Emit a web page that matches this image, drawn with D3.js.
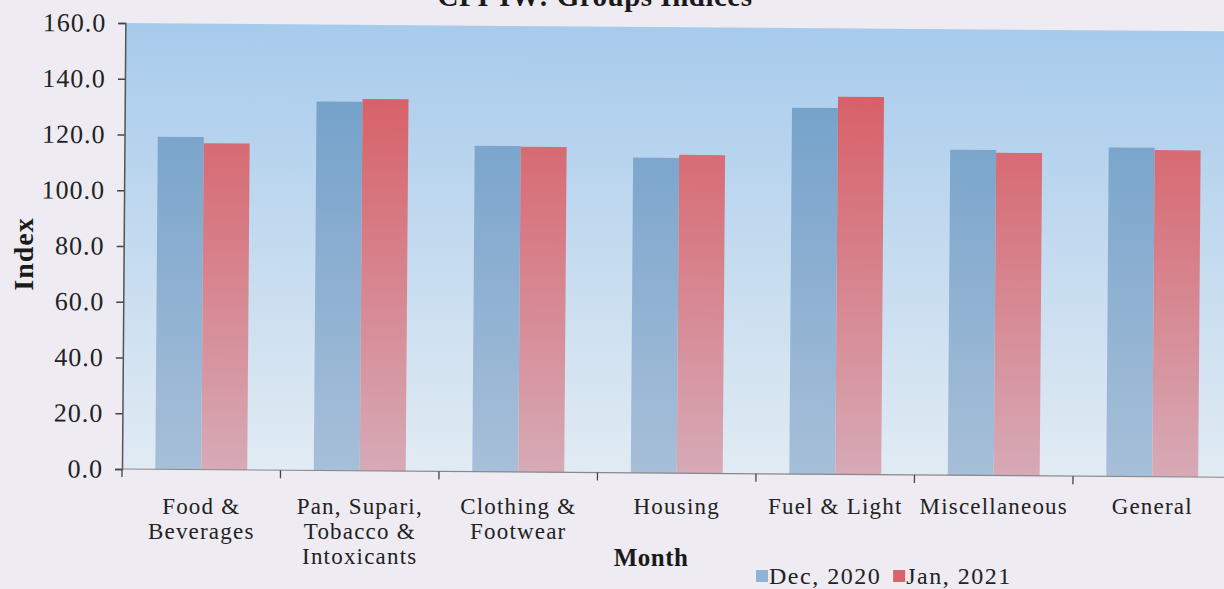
<!DOCTYPE html>
<html>
<head>
<meta charset="utf-8">
<script src="https://cdn.jsdelivr.net/npm/d3@7"></script>
<style>
  html, body { margin: 0; padding: 0; background: #eeebf2; }
  svg { display: block; font-family: "Liberation Serif", "DejaVu Serif", serif; }
</style>
</head>
<body>
<div id="chart"></div>
<script>
// CPI-IW group indices
var categories = [
    ['Food &', 'Beverages'],
    ['Pan, Supari,', 'Tobacco &', 'Intoxicants'],
    ['Clothing &', 'Footwear'],
    ['Housing'],
    ['Fuel & Light'],
    ['Miscellaneous'],
    ['General']
];
var seriesNames = ['Dec, 2020', 'Jan, 2021'];
var dec2020 = [119.3, 132.4, 116.9, 113.1, 131.4, 116.8, 118.0];
var jan2021 = [117.1, 133.4, 116.7, 114.2, 135.5, 115.8, 117.2];
var yTicks = [0, 20, 40, 60, 80, 100, 120, 140, 160];

var width = 1224, height = 589;
var plotLeft = 122, plotTop = 23, plotBottom = 469, step = 158.5;

var svg = d3.select('#chart').append('svg')
    .attr('width', width)
    .attr('height', height);

var defs = svg.append('defs');

function vGrad(id, c1, c2) {
    var g = defs.append('linearGradient')
        .attr('id', id)
        .attr('gradientUnits', 'userSpaceOnUse')
        .attr('x1', 0).attr('x2', 0)
        .attr('y1', plotTop).attr('y2', plotBottom);
    g.append('stop').attr('offset', '0%').attr('stop-color', c1);
    g.append('stop').attr('offset', '100%').attr('stop-color', c2);
}
vGrad('bgGrad', '#a7cbec', '#e1ebf3');
vGrad('blueGrad', '#6b9cc7', '#a7bfd9');
vGrad('redGrad', '#d8535a', '#d6aab6');

// the scan is tilted a little, so is the plot
var g = svg.append('g')
    .attr('transform', 'rotate(0.43,' + plotLeft + ',' + plotBottom + ')');

var keys = categories.map(function (c) { return c.join(' '); });

var x = d3.scaleBand()
    .domain(keys)
    .range([plotLeft, plotLeft + step * keys.length])
    .paddingInner(0.42)
    .paddingOuter(0.21);

var xSub = d3.scaleBand()
    .domain(seriesNames)
    .range([0, x.bandwidth()]);

var y = d3.scaleLinear()
    .domain([0, 160])
    .range([plotBottom, plotTop]);

g.append('rect')
    .attr('x', plotLeft)
    .attr('y', plotTop)
    .attr('width', step * keys.length)
    .attr('height', plotBottom - plotTop)
    .attr('fill', 'url(#bgGrad)');

var rows = keys.map(function (k, i) {
    return { key: k, values: [dec2020[i], jan2021[i]] };
});
var fills = ['url(#blueGrad)', 'url(#redGrad)'];

g.selectAll('.group')
    .data(rows)
    .enter().append('g')
    .attr('class', 'group')
    .attr('transform', function (d) { return 'translate(' + x(d.key) + ',0)'; })
    .selectAll('rect')
    .data(function (d) { return d.values; })
    .enter().append('rect')
    .attr('x', function (d, i) { return xSub(seriesNames[i]); })
    .attr('y', function (d) { return y(d); })
    .attr('width', xSub.bandwidth())
    .attr('height', function (d) { return plotBottom - y(d); })
    .attr('fill', function (d, i) { return fills[i]; });

// y axis
var yAxis = g.append('g')
    .attr('transform', 'translate(' + plotLeft + ',0)')
    .call(d3.axisLeft(y).tickValues(yTicks).tickFormat(d3.format('.1f')).tickSize(7).tickPadding(12));
yAxis.select('.domain').attr('stroke', '#555').attr('stroke-width', 1.5);
yAxis.selectAll('.tick line').attr('stroke', '#444').attr('stroke-width', 1.5);
yAxis.selectAll('text')
    .attr('font-family', '"Liberation Serif", serif')
    .attr('font-size', 26)
    .attr('letter-spacing', 1)
    .attr('fill', '#222');

// x axis: baseline and ticks between groups
g.append('line')
    .attr('x1', plotLeft).attr('x2', plotLeft + step * keys.length)
    .attr('y1', plotBottom).attr('y2', plotBottom)
    .attr('stroke', '#888').attr('stroke-width', 1.2);

g.selectAll('.xtick')
    .data(d3.range(keys.length + 1))
    .enter().append('line')
    .attr('class', 'xtick')
    .attr('x1', function (i) { return plotLeft + i * step; })
    .attr('x2', function (i) { return plotLeft + i * step; })
    .attr('y1', plotBottom).attr('y2', plotBottom + 8)
    .attr('stroke', '#444').attr('stroke-width', 1.3);

// category labels (drawn flat)
var labels = svg.selectAll('.xlabel')
    .data(rows)
    .enter().append('text')
    .attr('class', 'xlabel')
    .attr('text-anchor', 'middle')
    .attr('font-size', 23)
    .attr('letter-spacing', 1.2)
    .attr('fill', '#222')
    .attr('y', 514);
labels.selectAll('tspan')
    .data(function (d, i) {
        return categories[i].map(function (t) { return { t: t, x: x(d.key) + x.bandwidth() / 2 }; });
    })
    .enter().append('tspan')
    .attr('x', function (d) { return d.x; })
    .attr('dy', function (d, i) { return i === 0 ? 0 : 25; })
    .text(function (d) { return d.t; });

// titles
svg.append('text')
    .attr('x', 595).attr('y', 6)
    .attr('text-anchor', 'middle')
    .attr('font-size', 29)
    .attr('font-weight', 'bold')
    .attr('letter-spacing', 0.5)
    .attr('fill', '#1a1a1a')
    .text('CPI-IW: Groups Indices');

svg.append('text')
    .attr('transform', 'translate(33,254) rotate(-90)')
    .attr('text-anchor', 'middle')
    .attr('font-size', 28)
    .attr('font-weight', 'bold')
    .attr('letter-spacing', 1)
    .attr('fill', '#1a1a1a')
    .text('Index');

svg.append('text')
    .attr('x', 651).attr('y', 566)
    .attr('text-anchor', 'middle')
    .attr('font-size', 25)
    .attr('font-weight', 'bold')
    .attr('letter-spacing', 0.5)
    .attr('fill', '#1a1a1a')
    .text('Month');

// legend
var legendColors = ['#8fb2d6', '#d9636a'];
var legend = svg.append('g').attr('transform', 'translate(756,584)');
var lx = 0;
seriesNames.forEach(function (name, i) {
    legend.append('rect')
        .attr('x', lx).attr('y', -14)
        .attr('width', 12).attr('height', 12)
        .attr('fill', legendColors[i]);
    var t = legend.append('text')
        .attr('x', lx + 13).attr('y', 0)
        .attr('font-size', 24)
        .attr('letter-spacing', 1.5)
        .attr('fill', '#222')
        .text(name);
    lx += 13 + t.node().getComputedTextLength() + 12;
});
</script>
</body>
</html>
